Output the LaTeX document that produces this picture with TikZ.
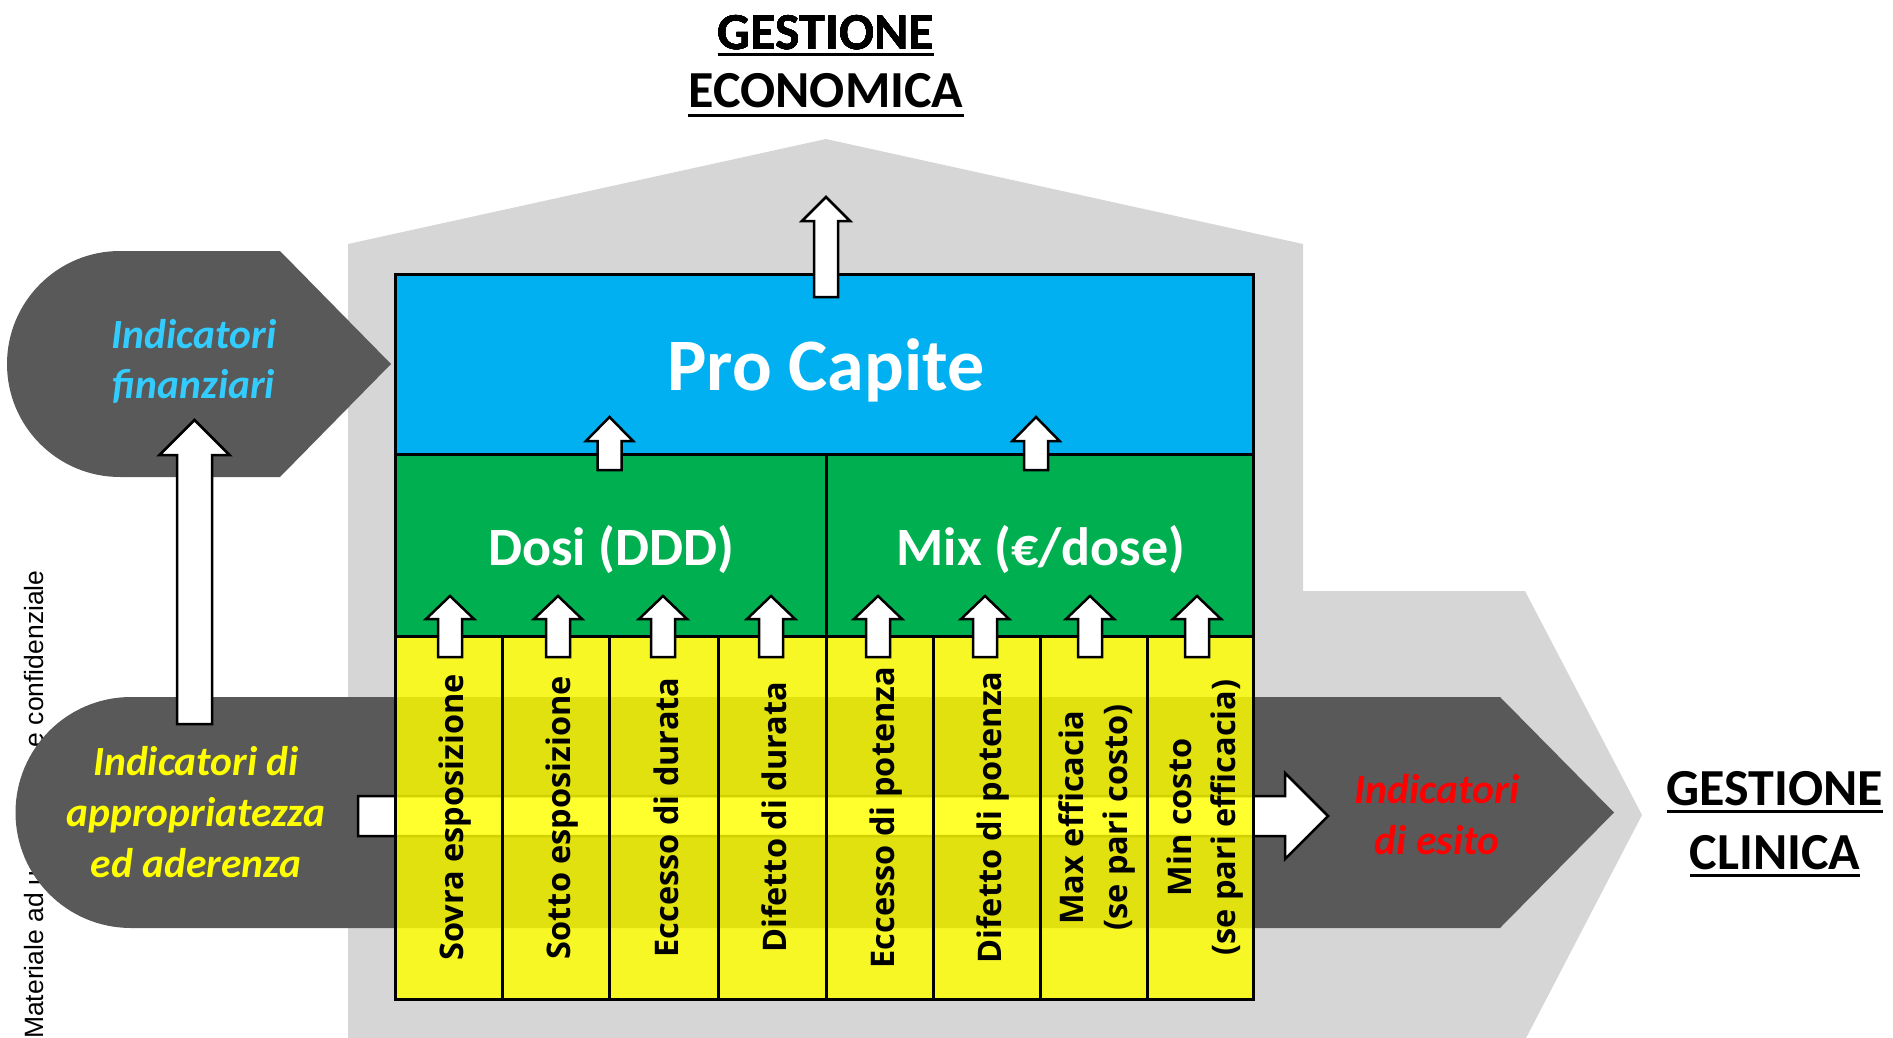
\documentclass[tikz,border=0pt]{standalone}
\usepackage{fontspec}
\setmainfont{Carlito}
\newfontfamily\osans{Open Sans}
\newfontfamily\arialf{Liberation Sans}
\definecolor{houseg}{HTML}{D6D6D6}
\definecolor{darkg}{HTML}{595959}
\definecolor{pcblue}{HTML}{00B0F0}
\definecolor{dgreen}{HTML}{00B050}
\definecolor{yel}{HTML}{FFFF00}
\definecolor{finblue}{HTML}{33CCFF}
\tikzset{
 warrow/.style={fill=white, draw=black, line width=2.5pt, line join=miter},
 boxline/.style={draw=black, line width=3pt},
 ycol/.style={fill=yel, fill opacity=0.82, draw=black, line width=3pt},
 vlab/.style={rotate=90, anchor=base, inner sep=0pt, font=\osans\bfseries\fontsize{32.5}{44}\selectfont},
 ital/.style={anchor=base, inner sep=0pt, font=\bfseries\itshape\fontsize{41.5}{51}\selectfont},
 titl/.style={anchor=base, inner sep=0pt, font=\bfseries\fontsize{52}{60}\selectfont},
 boxtxt/.style={anchor=base, inner sep=0pt, text=white, font=\bfseries\fontsize{54}{60}\selectfont},
}
% #1 x, #2 tip y, #3 head base y, #4 bottom y, #5 head half width, #6 shaft half width
\newcommand{\UpArr}[6]{%
 \draw[warrow] ({#1-#6},#4) -- ({#1-#6},#3) -- ({#1-#5},#3) -- (#1,#2) -- ({#1+#5},#3) -- ({#1+#6},#3) -- ({#1+#6},#4) -- cycle;}
\begin{document}
\begin{tikzpicture}[x=1pt,y=-1pt]
\useasboundingbox (0,0) rectangle (1893,1038);
% watermark (partly hidden)
\node[rotate=90, anchor=base west, inner sep=0pt, font=\arialf\fontsize{26.5}{30}\selectfont] (wm) at (43,1039) {Materiale ad uso interno e confidenziale};
% background house
\fill[houseg] (348,1040) -- (348,244) -- (826,139) -- (1303,244) -- (1303,591) -- (1525,591) -- (1642,815) -- (1525,1040) -- cycle;
% dark shapes
\fill[darkg] (120,364) circle[radius=113];
\fill[darkg] (120,251) -- (280,251) -- (391,364) -- (280,477) -- (120,477) -- cycle;
\fill[darkg] (131,812.5) circle[radius=115.5];
\fill[darkg] (131,697) -- (1500,697) -- (1614,812.5) -- (1500,928) -- (131,928) -- cycle;
% white arrows behind boxes
\draw[warrow] (358,796) -- (1285,796) -- (1285,773) -- (1328,816) -- (1285,859) -- (1285,836) -- (358,836) -- cycle;
\UpArr{194.5}{420}{455}{724}{35}{17.5}
% boxes
\draw[boxline, fill=pcblue] (395,274) rectangle (1253,454);
\draw[boxline, fill=dgreen] (395,454) rectangle (826,636);
\draw[boxline, fill=dgreen] (826,454) rectangle (1253,636);
\foreach \a/\b in {395/502, 502/609, 609/718, 718/826, 826/933, 933/1040, 1040/1147, 1147/1253}
  \draw[ycol] (\a,636) rectangle (\b,999);
% small arrows
\UpArr{826}{197}{221}{297}{24}{12}
\UpArr{609.5}{417}{441}{470}{23.5}{12}
\UpArr{1036}{417}{441}{470}{23.5}{12}
\foreach \x in {450,558,663,771,878,985,1090,1197}
  \UpArr{\x}{596}{619}{657}{24}{12}
% titles
\node[titl] (ge1) at (826,50) {GESTIONE};
\node[titl] (ge2) at (826,108) {ECONOMICA};
\draw[line width=3pt] ([yshift=-5pt]ge1.base west) -- ([yshift=-5pt]ge1.base east);
\draw[line width=3pt] ([yshift=-8pt]ge2.base west) -- ([yshift=-8pt]ge2.base east);
\node[titl] (gc1) at (1775,805) {GESTIONE};
\node[titl] (gc2) at (1775,869) {CLINICA};
\draw[line width=3pt] ([yshift=-6pt]gc1.base west) -- ([yshift=-6pt]gc1.base east);
\draw[line width=3pt] ([yshift=-6pt]gc2.base west) -- ([yshift=-6pt]gc2.base east);
% box texts
\node[boxtxt, font=\bfseries\fontsize{74}{80}\selectfont] (pc) at (826,390) {Pro Capite};
\node[boxtxt] (dosi) at (611,565) {Dosi (DDD)};
\node[boxtxt] (mix) at (1041,565) {Mix (€/dose)};
% italic labels
\node[ital, text=finblue] (fin1) at (194,348) {Indicatori};
\node[ital, text=finblue] (fin2) at (194,398) {finanziari};
\node[ital, text=yel] (app1) at (196,775) {Indicatori di};
\node[ital, text=yel] (app2) at (196,826) {appropriatezza};
\node[ital, text=yel] (app3) at (196,877) {ed aderenza};
\node[ital, text=red] (esi1) at (1437,803) {Indicatori};
\node[ital, text=red] (esi2) at (1437,854) {di esito};
% vertical labels
\node[vlab] (c1) at (463,817.5) {Sovra esposizione};
\node[vlab] (c2) at (570,817.5) {Sotto esposizione};
\node[vlab] (c3) at (678,817.5) {Eccesso di durata};
\node[vlab] (c4) at (786.5,817.5) {Difetto di durata};
\node[vlab] (c5) at (894,817.5) {Eccesso di potenza};
\node[vlab] (c6) at (1001,817.5) {Difetto di potenza};
\node[vlab] (c7a) at (1083,817.5) {Max efficacia};
\node[vlab] (c7b) at (1127,817.5) {(se pari costo)};
\node[vlab] (c8a) at (1191,817.5) {Min costo};
\node[vlab] (c8b) at (1235,817.5) {(se pari efficacia)};
\end{tikzpicture}
\end{document}
